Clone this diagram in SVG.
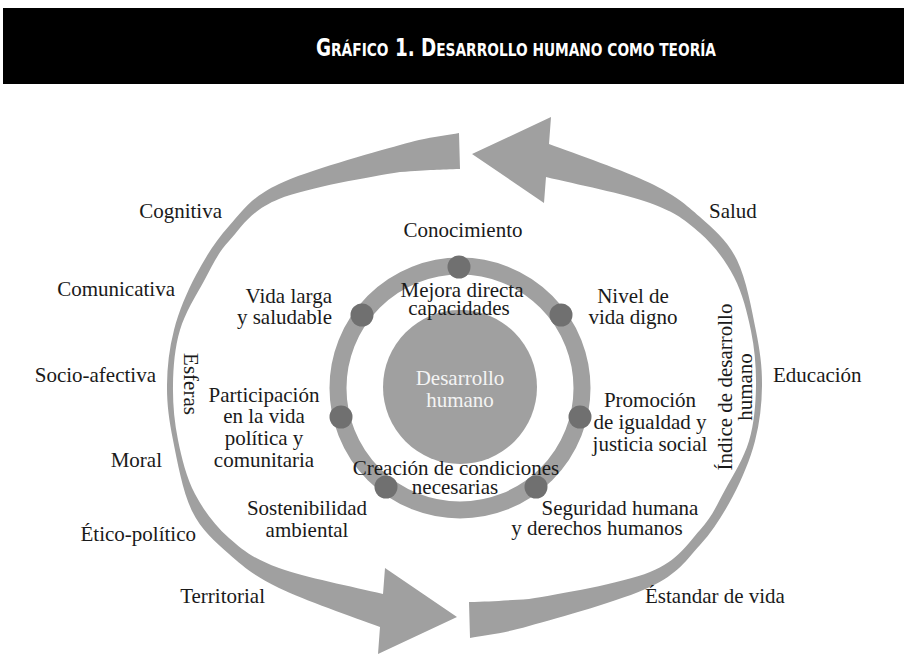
<svg xmlns="http://www.w3.org/2000/svg" width="904" height="655" viewBox="0 0 904 655">
<style>
.t{font-family:"Liberation Serif","DejaVu Serif",serif;font-size:21px;fill:#1a1a1a}
.m{text-anchor:middle}
.e{text-anchor:end}
.w{fill:#f4f4f4}
.title{font-family:"Liberation Sans Narrow","DejaVu Sans Condensed","Liberation Sans",sans-serif;font-weight:bold;fill:#ffffff;font-stretch:condensed}
.arrow{fill:#a0a0a0}
.dot{fill:#707070}
</style>
<defs>
<path id="la" d="M459,133 C439,136.8 430,136.5 400,145 C370,153.5 307.5,170.5 279,184 C250.5,197.5 242.8,210.8 229,226 C215.2,241.2 205.2,257.7 196,275 C186.8,292.3 178.8,311.7 174,330 C169.2,348.3 167.2,366.7 167,385 C166.8,403.3 168.8,419 173,440 C177.2,461 182.7,492 192,511 C201.3,530 214.5,541.2 229,554 C243.5,566.8 253.8,575.8 279,588 C304.2,600.2 353.2,617 380,627 L378,654 L457,617 L385,568 L383,594 C352.8,586.7 304.7,577.3 279,568 C253.3,558.7 243,550.3 229,538 C215,525.7 203.5,510.3 195,494 C186.5,477.7 181.7,458.2 178,440 C174.3,421.8 172.7,403.3 173,385 C173.3,366.7 174.8,347.3 180,330 C185.2,312.7 195.8,295.8 204,281 C212.2,266.2 216.5,254.7 229,241 C241.5,227.3 250.5,210.5 279,199 C307.5,187.5 369.8,177 400,172 C430,170 440,169.5 460,169 Z"/>
</defs>
<g id="title">
<rect x="3" y="8" width="901" height="76" fill="#000000"/>
<text class="title" x="516" y="56" text-anchor="middle" textLength="400" lengthAdjust="spacingAndGlyphs"><tspan font-size="24">G</tspan><tspan font-size="18">RÁFICO</tspan><tspan font-size="24"> 1. D</tspan><tspan font-size="18">ESARROLLO HUMANO COMO TEORÍA</tspan></text>
</g>
<g id="connectors">
<use href="#la" class="arrow"/>
<use href="#la" class="arrow" transform="rotate(180 464.5 385.5)"/>
</g>
<g id="ring">
<circle cx="460" cy="388" r="122" fill="none" stroke="#a0a0a0" stroke-width="17"/>
</g>
<g id="center">
<circle cx="460" cy="387" r="77" fill="#a0a0a0"/>
<text class="t m w" x="460" y="385">Desarrollo</text>
<text class="t m w" x="460" y="407">humano</text>
</g>
<g id="dots">
<circle class="dot" cx="459" cy="267" r="11.5"/>
<circle class="dot" cx="362" cy="315" r="11.5"/>
<circle class="dot" cx="561" cy="315" r="11.5"/>
<circle class="dot" cx="341" cy="417" r="11.5"/>
<circle class="dot" cx="580" cy="417" r="11.5"/>
<circle class="dot" cx="386" cy="487" r="11.5"/>
<circle class="dot" cx="536" cy="487" r="11.5"/>
</g>
<g id="inner-labels">
<text class="t m" x="463" y="237">Conocimiento</text>
<text class="t m" x="462" y="297">Mejora directa</text>
<text class="t m" x="459" y="315">capacidades</text>
<text class="t e" x="332" y="303">Vida larga</text>
<text class="t e" x="332" y="324">y saludable</text>
<text class="t m" x="633" y="303">Nivel de</text>
<text class="t m" x="633" y="324">vida digno</text>
<text class="t m" x="264" y="402">Participación</text>
<text class="t m" x="264" y="423">en la vida</text>
<text class="t m" x="264" y="445">política y</text>
<text class="t m" x="264" y="467">comunitaria</text>
<text class="t m" x="650" y="407">Promoción</text>
<text class="t m" x="650" y="429">de igualdad y</text>
<text class="t m" x="650" y="451">justicia social</text>
<text class="t m" x="456" y="475">Creación de condiciones</text>
<text class="t m" x="455" y="494">necesarias</text>
<text class="t m" x="307" y="515">Sostenibilidad</text>
<text class="t m" x="307" y="537">ambiental</text>
<text class="t m" x="620" y="515">Seguridad humana</text>
<text class="t m" x="597" y="535">y derechos humanos</text>
</g>
<g id="esferas">
<text class="t m" transform="translate(184 384) rotate(90)">Esferas</text>
<text class="t e" x="222" y="218">Cognitiva</text>
<text class="t e" x="175" y="296">Comunicativa</text>
<text class="t e" x="156" y="382">Socio-afectiva</text>
<text class="t e" x="162" y="467">Moral</text>
<text class="t e" x="196" y="541">Ético-político</text>
<text class="t e" x="265" y="603">Territorial</text>
</g>
<g id="indice">
<text class="t m" transform="translate(732 387) rotate(-90)"><tspan x="0" y="0">Índice de desarrollo</tspan><tspan x="0" y="20">humano</tspan></text>
<text class="t" x="709" y="218">Salud</text>
<text class="t" x="773" y="382">Educación</text>
<text class="t" x="645" y="603">Éstandar de vida</text>
</g>
</svg>
